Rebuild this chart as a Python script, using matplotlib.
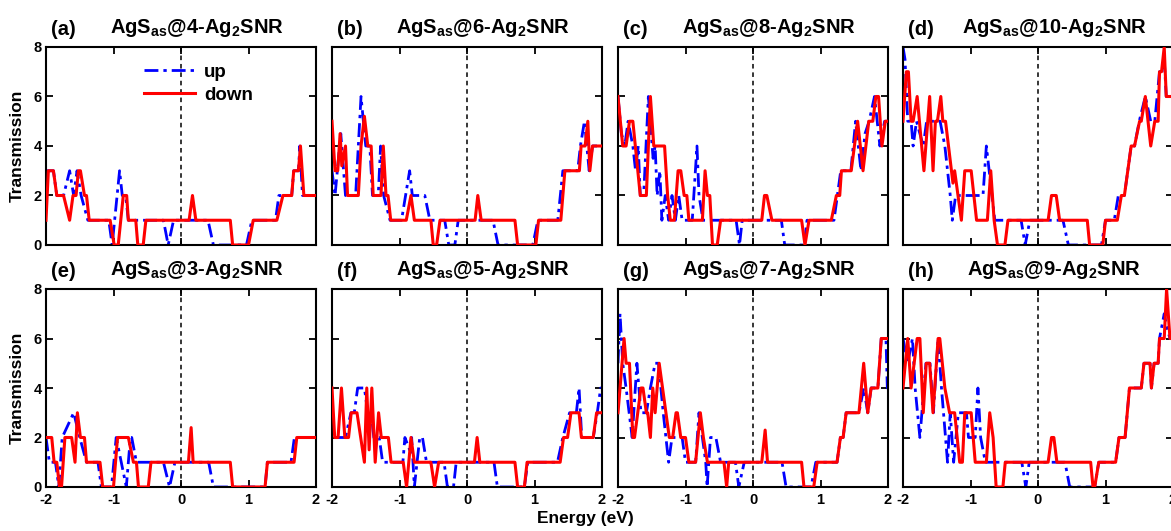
import matplotlib
matplotlib.use("Agg")
import matplotlib.pyplot as plt

plt.rcParams['font.family'] = ['Liberation Sans', 'DejaVu Sans']
plt.rcParams['font.weight'] = 'bold'
plt.rcParams['axes.unicode_minus'] = False
plt.rcParams['mathtext.fontset'] = 'custom'
plt.rcParams['mathtext.rm'] = 'Liberation Sans:bold'
plt.rcParams['mathtext.it'] = 'Liberation Sans:bold'
plt.rcParams['mathtext.bf'] = 'Liberation Sans:bold'

# ---- transmission spectra: (energy in eV, transmission) vertices ----
a_up_E = [-2.0, -1.89, -1.84, -1.74, -1.65, -1.59, -1.54, -1.48, -1.38, -1.07, -1.02, -0.91, -0.87, -0.82, -0.78, -0.26, -0.19, -0.11, 0.40, 0.48, 0.97, 1.05, 1.40, 1.45, 1.64, 1.67, 1.74, 1.76, 1.80, 2.0]
a_up_T = [3, 3, 2, 2, 3, 2, 3, 2, 1, 1, 0, 3, 2, 2, 1, 1, 0, 1, 1, 0, 0, 1, 1, 2, 2, 3, 3, 4, 2, 2]
a_dn_E = [-2.0, -1.965, -1.89, -1.84, -1.74, -1.65, -1.60, -1.555, -1.52, -1.49, -1.43, -1.40, -1.36, -1.05, -0.99, -0.93, -0.855, -0.805, -0.78, -0.67, -0.64, -0.56, -0.52, 0.12, 0.17, 0.22, 0.73, 0.765, 1.0, 1.07, 1.42, 1.51, 1.64, 1.67, 1.74, 1.77, 1.82, 2.0]
a_dn_T = [1, 3, 3, 2, 2, 1, 2, 2, 3, 3, 2, 2, 1, 1, 0, 0, 2, 2, 1, 1, 0, 0, 1, 1, 2, 1, 1, 0, 0, 1, 1, 2, 2, 3, 3, 4, 2, 2]

b_up_E = [-2.0, -1.955, -1.87, -1.80, -1.65, -1.57, -1.50, -1.44, -1.40, -1.315, -1.28, -1.235, -1.14, -0.97, -0.85, -0.81, -0.625, -0.55, -0.33, -0.27, -0.18, -0.13, 0.385, 0.46, 0.975, 1.05, 1.345, 1.42, 1.64, 1.68, 1.74, 1.81, 1.86, 2.0]
b_up_T = [3, 2, 4.5, 2, 2, 6, 4, 4, 2, 2, 4, 2, 1, 1, 3, 2, 2, 1, 1, 0, 0, 1, 1, 0, 0, 1, 1, 3, 3, 4, 5, 3, 4, 4]
b_dn_E = [-2.0, -1.955, -1.915, -1.88, -1.855, -1.80, -1.77, -1.61, -1.57, -1.52, -1.47, -1.42, -1.39, -1.275, -1.24, -1.20, -1.17, -1.13, -0.90, -0.83, -0.78, -0.535, -0.50, -0.45, -0.40, 0.12, 0.16, 0.21, 0.71, 0.75, 1.02, 1.06, 1.39, 1.45, 1.665, 1.69, 1.75, 1.79, 1.82, 1.86, 2.0]
b_dn_T = [5, 3, 3, 4.5, 3.2, 4, 2, 2, 4, 5.2, 4, 4, 2, 2, 4, 2, 2, 1, 1, 2, 1, 1, 0, 0, 1, 1, 2, 1, 1, 0, 0, 1, 1, 3, 3, 4, 4, 5, 3, 4, 4]

c_up_E = [-2.0, -1.95, -1.90, -1.85, -1.78, -1.74, -1.70, -1.67, -1.62, -1.55, -1.48, -1.45, -1.42, -1.38, -1.35, -1.30, -1.25, -1.20, -1.15, -1.10, -1.05, -0.90, -0.83, -0.80, -0.74, -0.25, -0.20, -0.16, 0.42, 0.47, 0.76, 0.80, 1.20, 1.25, 1.30, 1.45, 1.52, 1.60, 1.66, 1.72, 1.80, 1.88, 1.95, 2.0]
c_up_T = [6, 4.5, 4, 5, 4, 3, 4, 2, 2, 6, 3.5, 4, 2, 3, 1, 2, 1, 2, 1, 2, 1, 1, 4, 2, 1, 1, 0, 1, 1, 0, 0, 1, 1, 2, 3, 3, 5, 3, 4.5, 5, 6, 4, 5, 5]
c_dn_E = [-2.0, -1.93, -1.88, -1.83, -1.78, -1.67, -1.58, -1.52, -1.47, -1.31, -1.265, -1.225, -1.165, -1.11, -1.07, -1.02, -0.98, -0.95, -0.75, -0.71, -0.675, -0.64, -0.60, -0.53, -0.48, 0.13, 0.17, 0.205, 0.28, 0.72, 0.77, 0.83, 1.16, 1.235, 1.285, 1.31, 1.455, 1.55, 1.63, 1.715, 1.775, 1.82, 1.86, 1.91, 1.96, 2.0]
c_dn_T = [6, 4, 4, 5, 5, 2, 2, 6, 4, 4, 2, 1, 1, 3, 3, 2, 2, 1, 1, 3, 2, 2, 0, 0, 1, 1, 2, 2, 1, 1, 0, 1, 1, 2, 2, 3, 3, 5, 3, 5, 5, 6, 6, 4, 5, 5]

d_up_E = [-2.0, -1.97, -1.93, -1.88, -1.85, -1.80, -1.75, -1.70, -1.65, -1.55, -1.45, -1.38, -1.30, -1.27, -1.22, -0.815, -0.765, -0.64, -0.25, -0.19, -0.12, 0.37, 0.45, 0.94, 1.0, 1.13, 1.19, 1.28, 1.38, 1.43, 1.50, 1.59, 1.67, 1.73, 1.80, 1.83, 1.87, 1.90, 2.0]
d_up_T = [8, 7.5, 5, 5, 4, 5, 4.5, 4, 5, 5, 5, 4, 2, 1, 2, 2, 4, 1, 1, 0, 1, 1, 0, 0, 1, 1, 2, 2, 4, 4, 5, 6, 5, 5, 7, 7, 7.5, 6, 6]
d_dn_E = [-2.0, -1.95, -1.92, -1.88, -1.85, -1.79, -1.69, -1.605, -1.555, -1.52, -1.49, -1.44, -1.41, -1.37, -1.26, -1.235, -1.135, -1.085, -0.99, -0.91, -0.75, -0.70, -0.65, -0.60, -0.49, -0.445, 0.15, 0.20, 0.27, 0.32, 0.73, 0.765, 0.96, 1.0, 1.175, 1.235, 1.28, 1.38, 1.43, 1.505, 1.53, 1.59, 1.67, 1.73, 1.78, 1.80, 1.83, 1.87, 1.90, 2.0]
d_dn_T = [5, 7, 7, 5, 5, 6, 3, 6, 3, 5, 5, 6, 5, 5, 2.5, 3, 1, 3, 3, 1, 1, 3, 1, 0, 0, 1, 1, 2, 2, 1, 1, 0, 0, 1, 1, 2, 2, 4, 4, 5, 5, 6, 4, 5, 5, 7, 7, 8, 6, 6]

e_up_E = [-2.0, -1.95, -1.86, -1.81, -1.76, -1.59, -1.50, -1.40, -1.23, -1.18, -1.03, -0.96, -0.81, -0.75, -0.73, -0.66, -0.26, -0.17, -0.09, 0.41, 0.48, 1.245, 1.28, 1.63, 1.68, 2.0]
e_up_T = [2, 1, 1, 0, 2, 3, 2, 1, 1, 0, 0, 2, 0, 2, 2, 1, 1, 0, 1, 1, 0, 0, 1, 1, 2, 2]
e_dn_E = [-2.0, -1.915, -1.88, -1.84, -1.80, -1.77, -1.72, -1.62, -1.57, -1.535, -1.49, -1.43, -1.40, -1.20, -1.16, -1.0, -0.94, -0.78, -0.705, -0.66, -0.63, -0.485, -0.445, 0.11, 0.15, 0.18, 0.73, 0.765, 1.245, 1.28, 1.675, 1.715, 2.0]
e_dn_T = [2, 2, 1, 1, 0, 0, 2, 2, 1, 3, 2, 2, 1, 1, 0, 0, 2, 2, 1, 1, 0, 0, 1, 1, 2.4, 1, 1, 0, 0, 1, 1, 2, 2]

f_up_E = [-2.0, -1.97, -1.80, -1.72, -1.67, -1.62, -1.52, -1.47, -1.42, -1.38, -1.30, -1.25, -0.95, -0.92, -0.85, -0.82, -0.78, -0.70, -0.66, -0.60, -0.34, -0.29, -0.20, -0.16, 0.40, 0.45, 0.85, 0.90, 1.34, 1.42, 1.52, 1.62, 1.66, 1.70, 1.87, 1.93, 1.98, 2.0]
f_up_T = [3, 2, 2, 3, 3, 4, 4, 3, 3, 2, 2, 1, 1, 2, 1.5, 2, 0, 2, 2, 1, 1, 0, 0, 1, 1, 0, 0, 1, 1, 2, 3, 3, 4, 2, 2, 3, 4, 4]
f_dn_E = [-2.0, -1.96, -1.91, -1.86, -1.81, -1.755, -1.715, -1.63, -1.52, -1.485, -1.45, -1.41, -1.36, -1.31, -1.27, -1.165, -1.125, -0.945, -0.895, -0.83, -0.78, -0.535, -0.48, -0.42, 0.11, 0.15, 0.19, 0.71, 0.75, 0.85, 0.89, 1.38, 1.43, 1.49, 1.54, 1.66, 1.695, 1.87, 1.92, 2.0]
f_dn_T = [4, 2, 2, 4, 2, 2, 3, 3, 1, 4, 1.5, 4, 1, 3, 2, 2, 1, 1, 0, 2, 1, 1, 0, 1, 1, 2, 1, 1, 0, 0, 1, 1, 2, 2, 3, 3, 2, 2, 3, 3]

g_up_E = [-2.0, -1.97, -1.93, -1.88, -1.79, -1.72, -1.66, -1.58, -1.52, -1.45, -1.40, -1.33, -1.25, -1.20, -1.05, -1.0, -0.85, -0.80, -0.70, -0.68, -0.63, -0.55, -0.48, -0.26, -0.21, -0.13, 0.43, 0.49, 0.86, 0.93, 1.245, 1.295, 1.335, 1.38, 1.57, 1.64, 1.70, 1.75, 1.85, 1.90, 1.97, 1.99, 2.0]
g_up_T = [5, 7, 5, 4, 2, 5, 3, 3, 4, 5, 5, 3, 1, 2, 2, 1, 1, 3, 1, 0, 2, 2, 1, 1, 0, 1, 1, 0, 0, 1, 1, 2, 2, 3, 3, 4, 3, 4, 4, 6, 6, 4, 4]
g_dn_E = [-2.0, -1.91, -1.88, -1.83, -1.78, -1.755, -1.66, -1.63, -1.58, -1.56, -1.52, -1.485, -1.45, -1.39, -1.29, -1.24, -1.19, -1.14, -1.12, -1.07, -1.0, -0.95, -0.85, -0.78, -0.735, -0.675, -0.43, -0.39, -0.36, 0.13, 0.18, 0.215, 0.72, 0.755, 0.90, 0.95, 1.245, 1.295, 1.335, 1.38, 1.57, 1.64, 1.70, 1.75, 1.85, 1.90, 2.0]
g_dn_T = [3, 6, 5, 5, 2, 2, 4, 4, 3, 3, 2, 4, 3, 5, 3, 2, 2, 3, 3, 2, 2, 1, 1, 3, 2, 1, 1, 0, 1, 1, 2.3, 1, 1, 0, 0, 1, 1, 2, 2, 3, 3, 5, 3, 4, 4, 6, 6]

h_up_E = [-2.0, -1.93, -1.86, -1.82, -1.75, -1.66, -1.60, -1.55, -1.48, -1.43, -1.40, -1.34, -1.30, -1.25, -1.18, -1.06, -1.03, -0.93, -0.89, -0.85, -0.78, -0.24, -0.18, -0.13, 0.40, 0.47, 0.84, 0.90, 1.15, 1.20, 1.29, 1.355, 1.53, 1.57, 1.66, 1.68, 1.72, 1.78, 1.80, 1.87, 1.905, 1.955, 2.0]
h_up_T = [6, 5, 6, 4, 2, 5, 5, 3, 6, 4, 3, 1, 3, 1, 3, 3, 2, 2, 4, 2, 1, 1, 0, 1, 1, 0, 0, 1, 1, 2, 2, 4, 4, 5, 5, 4, 5, 5, 6, 7, 6.5, 6, 6]
h_dn_E = [-2.0, -1.93, -1.88, -1.79, -1.75, -1.70, -1.655, -1.605, -1.555, -1.48, -1.455, -1.38, -1.31, -1.235, -1.16, -1.12, -1.085, -0.99, -0.93, -0.765, -0.715, -0.665, -0.62, -0.52, -0.485, 0.15, 0.20, 0.235, 0.28, 0.78, 0.815, 0.84, 0.90, 1.15, 1.20, 1.29, 1.355, 1.53, 1.57, 1.66, 1.68, 1.72, 1.78, 1.80, 1.87, 1.905, 1.955, 2.0]
h_dn_T = [4, 6, 4, 6, 6, 3, 5, 5, 3, 6, 6, 4, 3, 3, 1, 1, 3, 3, 1, 1, 3, 2, 0, 0, 1, 1, 2, 2, 1, 1, 0, 0, 1, 1, 2, 2, 4, 4, 5, 5, 4, 5, 5, 6, 6, 8, 6, 6]

panel_tags = ['(a)', '(b)', '(c)', '(d)', '(e)', '(f)', '(g)', '(h)']
panel_sites = ['4', '6', '8', '10', '3', '5', '7', '9']
panel_up = [(a_up_E, a_up_T), (b_up_E, b_up_T), (c_up_E, c_up_T), (d_up_E, d_up_T),
            (e_up_E, e_up_T), (f_up_E, f_up_T), (g_up_E, g_up_T), (h_up_E, h_up_T)]
panel_dn = [(a_dn_E, a_dn_T), (b_dn_E, b_dn_T), (c_dn_E, c_dn_T), (d_dn_E, d_dn_T),
            (e_dn_E, e_dn_T), (f_dn_E, f_dn_T), (g_dn_E, g_dn_T), (h_dn_E, h_dn_T)]

W, H = 1171, 531
fig = plt.figure(figsize=(W / 100, H / 100), dpi=100)

lefts = [46, 332, 618, 903]
tops = [47, 289]
aw, ah = 270, 198

for i in range(8):
    r, c = divmod(i, 4)
    x0 = lefts[c] / W
    y0 = 1 - (tops[r] + ah) / H
    ax = fig.add_axes([x0, y0, aw / W, ah / H])

    Eu, Tu = panel_up[i]
    Ed, Td = panel_dn[i]
    lu, = ax.plot(Eu, Tu, color='#0000ff', lw=2.0, ls=(0, (5, 1.8, 1.2, 1.8)), zorder=2, label='up')
    ld, = ax.plot(Ed, Td, color='#ff0000', lw=2.2, ls='-', zorder=3, label='down')
    ax.axvline(0, color='black', lw=1.1, ls=(0, (3, 2.5)), zorder=1)

    ax.set_xlim(-2, 2)
    ax.set_ylim(0, 8)
    ax.set_xticks([-2, -1, 0, 1, 2])
    ax.set_yticks([0, 2, 4, 6, 8])
    ax.tick_params(direction='in', top=True, right=True, length=5, width=1.3,
                   labelsize=10.5, pad=3)
    ax.tick_params(axis='x', pad=4)
    for lab in ax.get_xticklabels() + ax.get_yticklabels():
        lab.set_fontweight('bold')
    for sp in ax.spines.values():
        sp.set_linewidth(1.5)
    if r == 0:
        ax.tick_params(labelbottom=False)
    if c != 0:
        ax.tick_params(labelleft=False)
    else:
        ax.set_ylabel('Transmission', fontsize=12.5, fontweight='bold', labelpad=6)

    ax.text(0.02, 1.04, panel_tags[i], transform=ax.transAxes, fontsize=14.5,
            fontweight='bold', ha='left', va='bottom')
    ax.text(0.56, 1.04, r'AgS$_{as}$@' + panel_sites[i] + r'-Ag$_{2}$SNR',
            transform=ax.transAxes, fontsize=14.5, fontweight='bold',
            ha='center', va='bottom')

    if i == 0:
        ax.legend(handles=[lu, ld], loc='upper left', bbox_to_anchor=(0.30, 1.0),
                  frameon=False, handlelength=2.7, handletextpad=0.5,
                  labelspacing=0.3, prop={'size': 13.5, 'weight': 'bold'})

fig.text(585 / W, 1 - 518 / H, 'Energy (eV)', ha='center', va='center',
         fontsize=12.5, fontweight='bold')

fig.savefig('out.png', dpi=100)
